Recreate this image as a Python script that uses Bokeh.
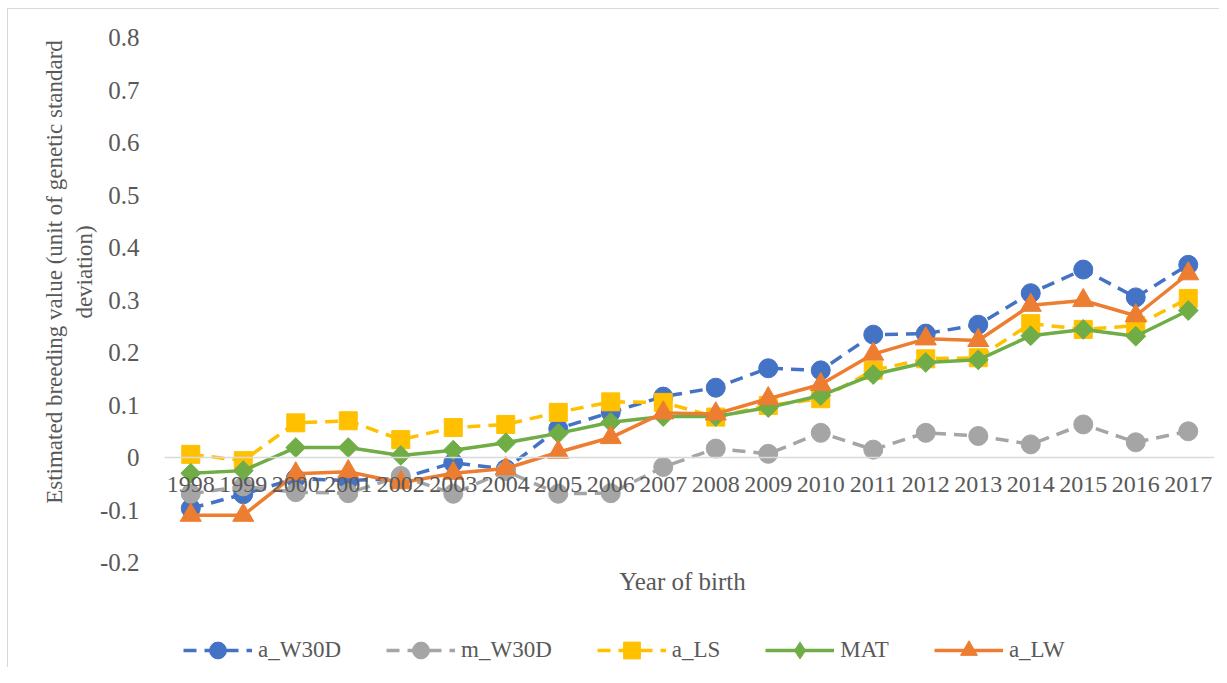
import math
from bokeh.plotting import figure
from bokeh.models import (Range1d, FactorRange, Span, Legend, LegendItem, FixedTicker,
                          LinearAxis, Label)
from bokeh.core.properties import value
from bokeh.embed import file_html
from bokeh.resources import INLINE

years = ["1998", "1999", "2000", "2001", "2002", "2003", "2004", "2005", "2006", "2007",
         "2008", "2009", "2010", "2011", "2012", "2013", "2014", "2015", "2016", "2017"]
a_W30D = [-0.097, -0.070, -0.040, -0.044, -0.040, -0.010, -0.022, 0.055, 0.086, 0.116,
          0.133, 0.170, 0.166, 0.234, 0.236, 0.253, 0.313, 0.358, 0.305, 0.367]
m_W30D = [-0.069, -0.055, -0.066, -0.068, -0.035, -0.069, -0.026, -0.069, -0.068, -0.018,
          0.017, 0.007, 0.047, 0.015, 0.047, 0.041, 0.025, 0.063, 0.029, 0.050]
a_LS = [0.006, -0.006, 0.066, 0.070, 0.034, 0.057, 0.063, 0.086, 0.106, 0.105,
        0.077, 0.099, 0.112, 0.166, 0.188, 0.190, 0.255, 0.244, 0.251, 0.303]
MAT = [-0.030, -0.025, 0.019, 0.019, 0.004, 0.014, 0.028, 0.046, 0.067, 0.078,
       0.078, 0.095, 0.118, 0.158, 0.181, 0.186, 0.232, 0.244, 0.231, 0.280]
a_LW = [-0.110, -0.110, -0.031, -0.027, -0.048, -0.030, -0.021, 0.010, 0.038, 0.085,
        0.083, 0.112, 0.139, 0.197, 0.226, 0.223, 0.290, 0.299, 0.270, 0.350]

y_ticks = [-0.2, -0.1, 0.0, 0.1, 0.2, 0.3, 0.4, 0.5, 0.6, 0.7, 0.8]
y_tick_labels = ["-0.2", "-0.1", "0", "0.1", "0.2", "0.3", "0.4", "0.5", "0.6", "0.7", "0.8"]
y_axis_min, y_axis_max = -0.2, 0.8
y_title_lines = ["Estimated breeding value (unit of genetic standard", "deviation)"]
x_title = "Year of birth"

# name, values, colour, marker, size, angle, dash, legend marker
series = [
    ("a_W30D", a_W30D, "#4472C4", "circle", 19, 0, "13 8", "circle"),
    ("m_W30D", m_W30D, "#A5A5A5", "circle", 19, 0, "13 8", "circle"),
    ("a_LS", a_LS, "#FFC000", "square", 18, 0, "13 8", "square"),
    ("MAT", MAT, "#70AD47", "square", 14, math.pi / 4, "solid", "diamond"),
    ("a_LW", a_LW, "#ED7D31", "triangle", 21, 0, "solid", "triangle"),
]

FONT = "Liberation Serif"
TXT = "#595959"
BORDER = "#D9D9D9"

# the plotting frame reaches down to the bottom of the chart so that the
# axis title and legend (which sit below the value axis) live inside it
p = figure(width=1219, height=667, x_range=FactorRange(*years, range_padding=0),
           y_range=Range1d(-0.4, y_axis_max), output_backend="svg", toolbar_location=None,
           min_border_left=164, min_border_right=5, min_border_top=37, min_border_bottom=0)
p.outline_line_color = None
p.grid.grid_line_color = None
p.background_fill_color = "white"
p.border_fill_color = None
p.styles = {
    "background": (f"linear-gradient({BORDER},{BORDER}) 7px 8px / 100% 1px no-repeat, "
                   f"linear-gradient({BORDER},{BORDER}) 7px 8px / 1px 100% no-repeat, white"),
}

# value axis (ticks only)
p.yaxis.ticker = FixedTicker(ticks=y_ticks)
p.yaxis.major_label_overrides = {t: s for t, s in zip(y_ticks, y_tick_labels)}
p.yaxis.axis_line_color = None
p.yaxis.major_tick_line_color = None
p.yaxis.minor_tick_line_color = None
p.yaxis.major_label_text_font = FONT
p.yaxis.major_label_text_font_size = "25px"
p.yaxis.major_label_text_color = TXT
p.yaxis.major_label_standoff = 19

# value-axis title on its own axis; non-breaking spaces lift it so that it is
# centred on the visible part of the scale rather than on the whole frame
lift = "\u00a0" * 28
title_axis = LinearAxis(ticker=FixedTicker(ticks=[]),
                        axis_line_color=None, major_tick_line_color=None,
                        minor_tick_line_color=None, major_label_standoff=0,
                        axis_label="\n".join(lift + s for s in y_title_lines),
                        axis_label_text_font=FONT, axis_label_text_font_size="23px",
                        axis_label_text_font_style="normal", axis_label_text_color=TXT,
                        axis_label_standoff=0)
p.add_layout(title_axis, "left")

p.xaxis.visible = False

p.add_layout(Span(location=0, dimension="width", line_color=BORDER, line_width=1.5))

items = []
for name, vals, color, marker, size, angle, dash, lmarker in series:
    r1 = p.line(years, vals, line_color=color, line_width=3.5, line_dash=dash)
    r2 = p.scatter(years, vals, marker=marker, size=size, angle=angle,
                   fill_color=color, line_color=color)
    if lmarker != marker:
        # zero-size copy of the same points: invisible in the plot, but the
        # legend draws it at legend size, so the key shows the right symbol
        r2 = p.scatter(years, vals, marker=lmarker, size=0,
                       fill_color=color, line_color=color)
    items.append(LegendItem(label=name, renderers=[r1, r2]))

# category labels sitting just under the zero line
p.text(x=years, y=[0] * len(years), text=years, text_font=value(FONT), text_font_size="24px",
       text_color=TXT, text_align="center", text_baseline="top", y_offset=19)

# category-axis title, under the bottom of the value scale
p.add_layout(Label(x=len(years) / 2, y=y_axis_min, x_offset=-7, y_offset=-5,
                   text=x_title, text_font=FONT, text_font_size="25px",
                   text_color=TXT, text_align="center", text_baseline="top"))

legend = Legend(items=items, orientation="horizontal", location=(19, -4),
                label_text_font=FONT, label_text_font_size="23px", label_text_color=TXT,
                glyph_width=69, glyph_height=42, label_standoff=6, spacing=45,
                padding=0, margin=0, border_line_color=None, background_fill_alpha=0)
p.add_layout(legend, "center")

open("out.html", "w").write(file_html(p, INLINE))
